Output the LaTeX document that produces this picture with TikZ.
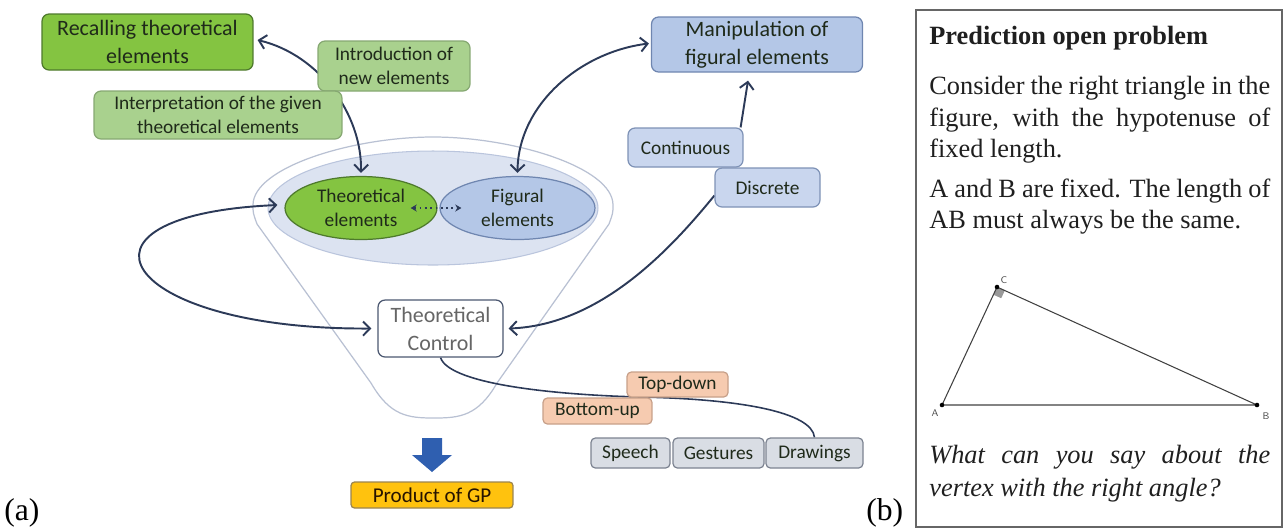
\documentclass[tikz,border=0pt]{standalone}
\usepackage{fontspec}
\setmainfont{Liberation Serif}
\newfontfamily\calibri{Carlito}
\usetikzlibrary{shapes.geometric,arrows.meta,calc}
\pgfdeclarelayer{back}
\pgfdeclarelayer{mid}
\pgfsetlayers{back,mid,main}
\definecolor{grnB}{HTML}{84C441}
\definecolor{grnD}{HTML}{4E7A2C}
\definecolor{grnL}{HTML}{A9D18E}
\definecolor{grnLd}{HTML}{86A872}
\definecolor{blueM}{HTML}{B4C7E7}
\definecolor{blueMd}{HTML}{6F86B0}
\definecolor{blueL}{HTML}{C9D6EE}
\definecolor{blueLd}{HTML}{7E92B6}
\definecolor{innerF}{HTML}{DCE3F1}
\definecolor{innerB}{HTML}{BAC5DD}
\definecolor{funB}{HTML}{B9C1D3}
\definecolor{peach}{HTML}{F6CBB0}
\definecolor{peachD}{HTML}{C7A089}
\definecolor{grayF}{HTML}{D9DDE4}
\definecolor{grayD}{HTML}{7C8391}
\definecolor{gold}{HTML}{FFC20E}
\definecolor{goldD}{HTML}{9A8450}
\definecolor{navy}{HTML}{2C3A58}
\definecolor{blockblue}{HTML}{2F5FB0}
\definecolor{txt}{HTML}{1F2A1A}
\begin{document}
\begin{tikzpicture}[x=0.02cm,y=-0.02cm,
  box/.style={draw, rounded corners=4pt, line width=0.7pt, align=center, inner sep=1pt,
    text=txt, font=\calibri\fontsize{11}{13.5}\selectfont},
  bigbox/.style={box, font=\calibri\fontsize{12.5}{16}\selectfont},
  smallbox/.style={box, rounded corners=2.5pt, font=\calibri\fontsize{11}{13}\selectfont},
  ell/.style={ellipse, draw, line width=0.7pt, inner sep=0pt, align=center, text=txt,
    font=\calibri\fontsize{11}{13.5}\selectfont},
  conn/.style={draw=navy, line width=1.1pt},
  barb/.tip={Straight Barb[length=4pt,width=8pt]},
  rtext/.style={anchor=base west, inner sep=0pt, text=black!88, font=\fontsize{15}{18}\selectfont},
  lbl/.style={inner sep=0pt, text=black!70, font=\sffamily\fontsize{5.5}{6}\selectfont}
]
\useasboundingbox (0,0) rectangle (1284,529);

% ---------- funnel and inner ellipse ----------
\begin{pgfonlayer}{back}
\path[draw=funB, fill=white, line width=0.7pt]
  (253,205) .. controls (253,167.4) and (352.4,137) .. (433,137)
  .. controls (513.6,137) and (613,167.4) .. (613,205)
  .. controls (613,213) .. (609,224) -- (497,383)
  .. controls (478,416) and (460,418) .. (434,418)
  .. controls (408,418) and (390,416) .. (371,383) -- (257,224)
  .. controls (253,213) .. cycle;
\node[ellipse, draw=innerB, fill=innerF, line width=0.6pt, minimum width=6.6cm, minimum height=2.28cm] (inner) at (433,208) {};
\end{pgfonlayer}

% ---------- nodes ----------
\node[bigbox, fill=grnB, draw=grnD, minimum width=4.22cm, minimum height=1.12cm] (rec) at (147.5,42) {Recalling theoretical\\elements};
\node[box, fill=grnL, draw=grnLd, minimum width=3.04cm, minimum height=1.0cm] (intro) at (394,66) {Introduction of\\new elements};
\node[box, fill=grnL, draw=grnLd, minimum width=4.96cm, minimum height=0.96cm] (interp) at (218,115) {Interpretation of the given\\theoretical elements};

\node[bigbox, fill=blueM, draw=blueMd, minimum width=4.22cm, minimum height=1.1cm] (man) at (757,44.5) {Manipulation of\\figural elements};
\node[box, fill=blueL, draw=blueLd, minimum width=2.3cm, minimum height=0.78cm] (cont) at (685.5,147.5) {Continuous};
\node[box, fill=blueL, draw=blueLd, minimum width=2.1cm, minimum height=0.78cm] (disc) at (767.5,187.5) {Discrete};

\node[ell, fill=grnB, draw=grnD, minimum width=3.04cm, minimum height=1.26cm] (te) at (361,208) {Theoretical\\elements};
\node[ell, fill=blueM, draw=blueMd, minimum width=3.1cm, minimum height=1.26cm] (fe) at (517.5,208) {Figural\\elements};

\node[bigbox, fill=white, draw=navy!85, text=black!60, minimum width=2.5cm, minimum height=1.14cm] (tc) at (440.5,328.5) {Theoretical\\Control};

\node[smallbox, fill=peach, draw=peachD, minimum width=2.02cm, minimum height=0.5cm] (td) at (677.5,384.5) {Top-down};
\node[smallbox, fill=peach, draw=peachD, minimum width=2.18cm, minimum height=0.52cm] (bu) at (597.5,411) {Bottom-up};

\node[smallbox, fill=grayF, draw=grayD, minimum width=1.58cm, minimum height=0.6cm] (sp) at (630.5,453) {Speech};
\node[smallbox, fill=grayF, draw=grayD, minimum width=1.82cm, minimum height=0.6cm] (ge) at (718.5,453) {Gestures};
\node[smallbox, fill=grayF, draw=grayD, minimum width=1.94cm, minimum height=0.6cm] (dr) at (814.5,453) {Drawings};

\node[box, rounded corners=2pt, fill=gold, draw=goldD, text=black!85!orange, minimum width=3.24cm, minimum height=0.52cm, font=\calibri\fontsize{12}{14}\selectfont] (prod) at (432,495) {Product of GP};

\fill[blockblue] (422,438) -- (442,438) -- (442,455) -- (452,455) -- (432,472) -- (412,455) -- (422,455) -- cycle;

% ---------- connectors ----------
\begin{pgfonlayer}{mid}
\draw[conn, barb-barb] ($(rec.east)+(4,-2)$) .. controls (320,55) and (362,115) .. ($(te.north)+(0,-3)$);
\draw[conn, barb-barb] ($(man.west)+(-2,-1)$) .. controls (580,52) and (518,105) .. ($(fe.north)+(0,-3)$);
\draw[conn, -barb] ($(cont.north east)+(-3,0)$) -- ($(man.south)+(-9,8)$);
\draw[conn, -barb] ($(disc.west)+(0,8)$) .. controls (670,250) and (600,325) .. ($(tc.east)+(5,0)$);
\draw[conn, barb-barb] ($(te.west)+(-7,-3)$) .. controls (50,215) and (120,330) .. ($(tc.west)+(-6,0)$);
\draw[draw=navy, line width=0.9pt] (tc.south) .. controls (450,385) and (560,395) .. (640,397)
  .. controls (740,399) and (812,412) .. (dr.north);
\end{pgfonlayer}
\draw[draw=navy, line width=1pt, dotted, {Stealth[length=3.5pt,width=4pt]}-{Stealth[length=3.5pt,width=4pt]}] ($(te.east)+(-27,0)$) -- ($(fe.west)+(22,0)$);

% ---------- labels (a) (b) ----------
\node[anchor=base west, inner sep=0pt, font=\fontsize{18}{20}\selectfont] (la) at (4,520) {(a)};
\node[anchor=base west, inner sep=0pt, font=\fontsize{18}{20}\selectfont] (lb) at (866,520) {(b)};

% ---------- right panel ----------
\draw[draw=black!60, line width=0.9pt] (916,10) rectangle (1282,527);
\node[rtext] (t0) at (929,44) {\bfseries Prediction open problem};
\node[rtext] (t1) at (929,94) {\makebox[6.82cm][s]{Consider the right triangle in the}};
\node[rtext] (t2) at (929,126) {\makebox[6.82cm][s]{figure, with the hypotenuse of}};
\node[rtext] (t3) at (929,157) {fixed length.};
\node[rtext] (t4) at (929,197) {\makebox[6.82cm][s]{A and B are fixed. The length of}};
\node[rtext] (t5) at (929,228) {AB must always be the same.};
\node[rtext] (t6) at (929,463) {\itshape\makebox[6.82cm][s]{What can you say about the}};
\node[rtext] (t7) at (929,496) {\itshape vertex with the right angle?};

\coordinate (A) at (942,405);
\coordinate (B) at (1257,405);
\coordinate (C) at (997,287);
\fill[black!40] (C) -- ($(C)!0.065!(A)$) -- ($($(C)!0.065!(A)$)+($(C)!0.03!(B)$)-(C)$) -- ($(C)!0.03!(B)$) -- cycle;
\draw[black!75, line width=0.6pt] (A) -- (B) -- (C) -- cycle;
\fill[black] (A) circle (1.3pt) (B) circle (1.3pt) (C) circle (1.3pt);
\node[lbl] (lC) at (1004,280) {C};
\node[lbl] (lA) at (935,413) {A};
\node[lbl] (lB) at (1266,416) {B};
\end{tikzpicture}
\end{document}
